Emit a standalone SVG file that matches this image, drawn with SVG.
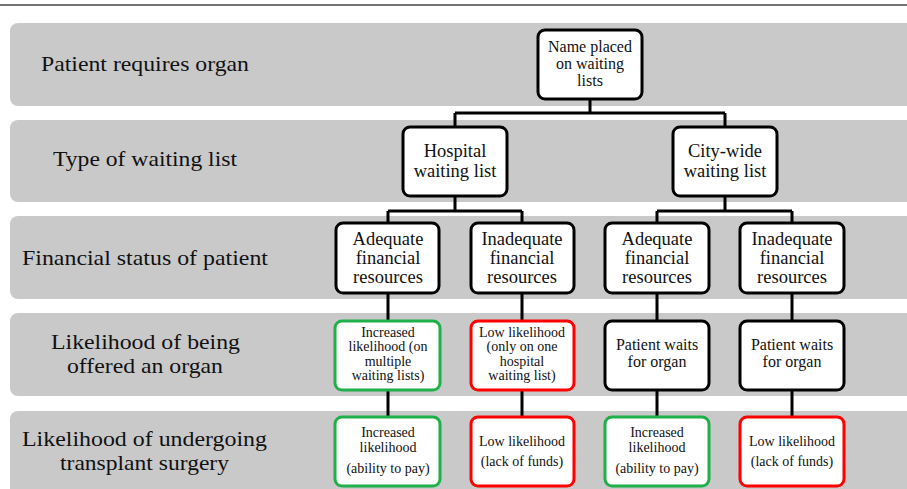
<svg xmlns="http://www.w3.org/2000/svg" width="907" height="489" viewBox="0 0 907 489">
<style>
.band{fill:#c9c9c9}
.lab{font-family:"Liberation Serif","Times New Roman",serif;font-size:22px;fill:#111}
.box{fill:#fff;stroke:#000;stroke-width:3}
.g{fill:#fff;stroke:#1fb04a;stroke-width:3}
.r{fill:#fff;stroke:#ff0000;stroke-width:3}
.t{font-family:"Liberation Serif","Times New Roman",serif;fill:#111;text-anchor:middle}
.t18{font-size:18.5px}
.t16{font-size:16px}
.t14{font-size:14px}
.con{fill:none;stroke:#000;stroke-width:3}
</style>
<rect width="907" height="489" fill="#fff"/>
<line x1="0" y1="5" x2="907" y2="5" stroke="#444" stroke-width="1.5"/>
<g id="bands">
<rect class="band" x="10" y="23" width="920" height="83" rx="8"/>
<rect class="band" x="10" y="120" width="920" height="82" rx="8"/>
<rect class="band" x="10" y="216" width="920" height="83" rx="8"/>
<rect class="band" x="10" y="313" width="920" height="83" rx="8"/>
<rect class="band" x="10" y="411" width="920" height="90" rx="8"/>
<text class="lab" x="41" y="71" textLength="208" lengthAdjust="spacingAndGlyphs">Patient requires organ</text>
<text class="lab" x="53" y="166" textLength="184" lengthAdjust="spacingAndGlyphs">Type of waiting list</text>
<text class="lab" x="22" y="265" textLength="246" lengthAdjust="spacingAndGlyphs">Financial status of patient</text>
<text class="lab" x="51" y="349" textLength="189" lengthAdjust="spacingAndGlyphs">Likelihood of being</text>
<text class="lab" x="67" y="373" textLength="156" lengthAdjust="spacingAndGlyphs">offered an organ</text>
<text class="lab" x="22" y="446" textLength="245" lengthAdjust="spacingAndGlyphs">Likelihood of undergoing</text>
<text class="lab" x="60" y="470" textLength="169" lengthAdjust="spacingAndGlyphs">transplant surgery</text>
</g>
<g id="connectors">
<path class="con" d="M590 99V113M455 113H725M455 113V127M725 113V127"/>
<path class="con" d="M455 196V211M388 211H522M388 211V223M522 211V223"/>
<path class="con" d="M725 196V211M657 211H792M657 211V223M792 211V223"/>
<path class="con" d="M388 293V321M522 293V321M657 293V321M792 293V321"/>
<path class="con" d="M388 390V417M522 390V417M657 390V417M792 390V417"/>
</g>
<g id="n-root">
<rect class="box" x="538" y="30" width="104" height="69" rx="7"/>
<text class="t t16" x="590" y="52">Name placed</text>
<text class="t t16" x="590" y="69">on waiting</text>
<text class="t t16" x="590" y="86">lists</text>
</g>
<g id="n-hospital">
<rect class="box" x="403" y="127" width="104" height="69" rx="7"/>
<text class="t t18" x="455" y="157">Hospital</text>
<text class="t t18" x="455" y="177">waiting list</text>
</g>
<g id="n-city">
<rect class="box" x="673" y="127" width="104" height="69" rx="7"/>
<text class="t t18" x="725" y="157">City-wide</text>
<text class="t t18" x="725" y="177">waiting list</text>
</g>
<g id="n-h-adequate">
<rect class="box" x="336" y="223" width="103" height="70" rx="7"/>
<text class="t t18" x="388" y="245">Adequate</text>
<text class="t t18" x="388" y="264">financial</text>
<text class="t t18" x="388" y="283">resources</text>
</g>
<g id="n-h-inadequate">
<rect class="box" x="471" y="223" width="103" height="70" rx="7"/>
<text class="t t18" x="522" y="245">Inadequate</text>
<text class="t t18" x="522" y="264">financial</text>
<text class="t t18" x="522" y="283">resources</text>
</g>
<g id="n-c-adequate">
<rect class="box" x="605" y="223" width="104" height="70" rx="7"/>
<text class="t t18" x="657" y="245">Adequate</text>
<text class="t t18" x="657" y="264">financial</text>
<text class="t t18" x="657" y="283">resources</text>
</g>
<g id="n-c-inadequate">
<rect class="box" x="740" y="223" width="104" height="70" rx="7"/>
<text class="t t18" x="792" y="245">Inadequate</text>
<text class="t t18" x="792" y="264">financial</text>
<text class="t t18" x="792" y="283">resources</text>
</g>
<g id="n-offer-1">
<rect class="g" x="335" y="321" width="105" height="69" rx="7"/>
<text class="t t14" x="388" y="337">Increased</text>
<text class="t t14" x="388" y="351">likelihood (on</text>
<text class="t t14" x="388" y="366">multiple</text>
<text class="t t14" x="388" y="380">waiting lists)</text>
</g>
<g id="n-offer-2">
<rect class="r" x="471" y="321" width="103" height="69" rx="7"/>
<text class="t t14" x="522" y="337">Low likelihood</text>
<text class="t t14" x="522" y="351">(only on one</text>
<text class="t t14" x="522" y="366">hospital</text>
<text class="t t14" x="522" y="380">waiting list)</text>
</g>
<g id="n-offer-3">
<rect class="box" x="605" y="321" width="104" height="69" rx="7"/>
<text class="t t16" x="657" y="350">Patient waits</text>
<text class="t t16" x="657" y="367">for organ</text>
</g>
<g id="n-offer-4">
<rect class="box" x="740" y="321" width="104" height="69" rx="7"/>
<text class="t t16" x="792" y="350">Patient waits</text>
<text class="t t16" x="792" y="367">for organ</text>
</g>
<g id="n-surg-1">
<rect class="g" x="335" y="417" width="105" height="69" rx="7"/>
<text class="t t14" x="388" y="437">Increased</text>
<text class="t t14" x="388" y="452">likelihood</text>
<text class="t t14" x="388" y="473">(ability to pay)</text>
</g>
<g id="n-surg-2">
<rect class="r" x="471" y="417" width="103" height="69" rx="7"/>
<text class="t t14" x="522" y="446">Low likelihood</text>
<text class="t t14" x="522" y="466">(lack of funds)</text>
</g>
<g id="n-surg-3">
<rect class="g" x="605" y="417" width="104" height="69" rx="7"/>
<text class="t t14" x="657" y="437">Increased</text>
<text class="t t14" x="657" y="452">likelihood</text>
<text class="t t14" x="657" y="473">(ability to pay)</text>
</g>
<g id="n-surg-4">
<rect class="r" x="740" y="417" width="104" height="69" rx="7"/>
<text class="t t14" x="792" y="446">Low likelihood</text>
<text class="t t14" x="792" y="466">(lack of funds)</text>
</g>
</svg>
